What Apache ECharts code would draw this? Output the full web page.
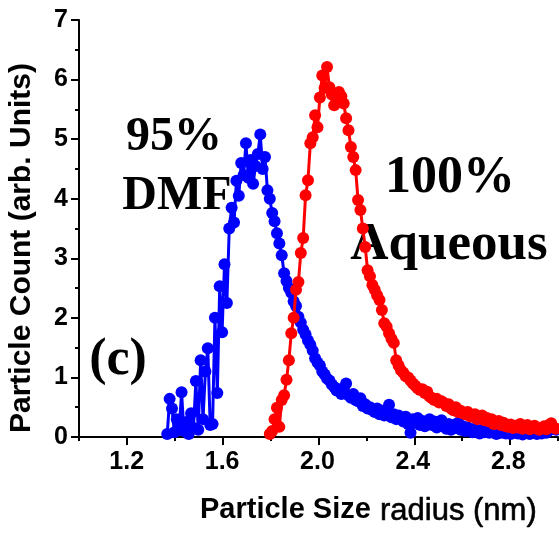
<!DOCTYPE html>
<html>
<head>
<meta charset="utf-8">
<script src="https://cdn.jsdelivr.net/npm/echarts@6/dist/echarts.min.js"></script>
<style>
  html, body { margin: 0; padding: 0; background: #fff; }
  #wrap { position: relative; width: 559px; height: 533px; }
  #axesLayer, #plotLayer { position: absolute; left: 0; top: 0; width: 559px; height: 533px; }
</style>
</head>
<body>
<div id="wrap">
  <div id="axesLayer"></div>
  <div id="plotLayer"></div>
</div>
<script>
// Particle size distributions (radius in nm, counts in arbitrary units), sampled every 0.01 nm
const dmfStart = 1.37;
const dmfCounts = [
  0.05, 0.64, 0.48, 0.08, 0.30, 0.12, 0.75, 0.10, 0.25, 0.05,
  0.40, 0.15, 0.94, 0.12, 1.29, 0.30, 1.10, 1.49, 0.20, 0.22,
  2.00, 0.74, 2.53, 1.76, 2.90, 2.25, 3.50, 3.85, 3.60, 4.30,
  4.05, 4.60, 4.40, 4.93, 4.35, 4.65, 4.25, 4.55, 4.75, 5.08,
  4.50, 4.70, 4.14, 4.00, 3.76, 3.62, 3.42, 3.25, 3.05, 2.75,
  2.62, 2.50, 2.42, 2.28, 2.20, 2.02, 1.92, 1.80, 1.72, 1.62,
  1.55, 1.45, 1.32, 1.25, 1.20, 1.10, 1.05, 0.98, 0.95, 0.88,
  0.84, 0.78, 0.80, 0.72, 0.82, 0.90, 0.70, 0.66, 0.72, 0.62,
  0.60, 0.65, 0.52, 0.55, 0.48, 0.50, 0.45, 0.42, 0.48, 0.38,
  0.44, 0.36, 0.40, 0.54, 0.33, 0.38, 0.30, 0.36, 0.30, 0.26,
  0.34, 0.22, 0.07, 0.30, 0.24, 0.32, 0.20, 0.27, 0.18, 0.25,
  0.30, 0.20, 0.26, 0.16, 0.22, 0.28, 0.18, 0.14, 0.22, 0.12,
  0.20, 0.15, 0.24, 0.12, 0.18, 0.10, 0.16, 0.12, 0.08, 0.14,
  0.10, 0.06, 0.12, 0.08, 0.11, 0.07, 0.13, 0.09, 0.05, 0.10,
  0.07, 0.12, 0.06, 0.09, 0.05, 0.08, 0.11, 0.06, 0.09, 0.04,
  0.08, 0.10, 0.05, 0.07, 0.09, 0.05, 0.08, 0.06, 0.10, 0.07,
  0.11, 0.13, 0.15, 0.12
];

const aqStart = 1.80;
const aqCounts = [
  0.05, 0.10, 0.30, 0.49, 0.17, 0.62, 0.70, 0.96, 1.29, 1.74,
  2.00, 2.47, 2.60, 3.09, 3.34, 4.06, 4.31, 4.93, 5.03, 5.40,
  5.20, 5.70, 6.07, 5.86, 6.21, 5.87, 5.75, 5.57, 5.65, 5.79,
  5.72, 5.60, 5.35, 5.15, 4.87, 4.70, 4.48, 3.98, 3.81, 3.50,
  3.19, 2.80, 2.70, 2.55, 2.47, 2.38, 2.30, 2.13, 1.91, 1.85,
  1.74, 1.65, 1.58, 1.29, 1.20, 1.12, 1.08, 1.02, 1.00, 0.95,
  0.90, 0.86, 0.82, 0.79, 0.80, 0.74, 0.76, 0.68, 0.65, 0.62,
  0.64, 0.58, 0.60, 0.57, 0.52, 0.55, 0.48, 0.45, 0.50, 0.42,
  0.44, 0.40, 0.38, 0.42, 0.35, 0.34, 0.38, 0.30, 0.33, 0.36,
  0.28, 0.32, 0.26, 0.30, 0.22, 0.23, 0.27, 0.20, 0.24, 0.18,
  0.17, 0.21, 0.15, 0.19, 0.16, 0.22, 0.14, 0.17, 0.20, 0.13,
  0.16, 0.19, 0.14, 0.12, 0.15, 0.18, 0.13, 0.20, 0.23, 0.16,
  0.14
];
const step = 0.01;

const xLabelValues = [1.2, 1.6, 2.0, 2.4, 2.8];
const xMinorTickValues = [1.0, 1.4, 1.8, 2.2, 2.6, 3.0];

function toPairs(start, counts) {
  return counts.map((v, i) => [+(start + i * step).toFixed(2), v]);
}

// Only every other 0.2 step carries a label, printed with one decimal
function xLabel(v) {
  const raw = (v !== null && typeof v === 'object' && 'value' in v) ? v.value : v;
  const n = Number(raw);
  if (!isFinite(n)) return '';
  return xLabelValues.some(t => Math.abs(t - n) < 1e-6) ? n.toFixed(1) : '';
}

function gridBox() {
  return { left: 79, top: 20, width: 479, height: 417 };
}
function tickFont() {
  return { fontFamily: 'Liberation Sans', fontWeight: 'bold', fontSize: 25, color: '#000' };
}
function blackLine() {
  return { color: '#000', width: 2 };
}

// Bottom layer: axis lines with major and minor tick marks
const axesChart = echarts.init(document.getElementById('axesLayer'));
axesChart.setOption({
  backgroundColor: '#fff',
  animation: false,
  grid: gridBox(),
  xAxis: [
    {
      type: 'value', min: 1.0, max: 3.0,
      axisLine: { show: true, lineStyle: blackLine() },
      axisTick: { show: true, customValues: xLabelValues, length: 8, lineStyle: blackLine() },
      axisLabel: { show: false },
      splitLine: { show: false }
    },
    {
      type: 'value', min: 1.0, max: 3.0, position: 'bottom',
      axisLine: { show: false },
      axisTick: { show: true, customValues: xMinorTickValues, length: 4, lineStyle: blackLine() },
      axisLabel: { show: false },
      splitLine: { show: false }
    }
  ],
  yAxis: {
    type: 'value', min: 0, max: 7, interval: 1,
    axisLine: { show: true, lineStyle: blackLine() },
    axisTick: { show: true, length: 8, lineStyle: blackLine() },
    minorTick: { show: true, splitNumber: 2, length: 4, lineStyle: blackLine() },
    axisLabel: { show: false },
    splitLine: { show: false },
    minorSplitLine: { show: false }
  },
  series: [{ type: 'line', data: [], showSymbol: false }]
});

// Top layer: tick labels, the two size distributions and the text
const plotChart = echarts.init(document.getElementById('plotLayer'));
plotChart.setOption({
  backgroundColor: 'rgba(0,0,0,0)',
  animation: false,
  grid: gridBox(),
  xAxis: {
    type: 'value', min: 1.0, max: 3.0, interval: 0.2,
    axisLine: { show: false },
    axisTick: { show: false },
    axisLabel: Object.assign({ show: true, margin: 13, formatter: xLabel }, tickFont()),
    splitLine: { show: false }
  },
  yAxis: {
    type: 'value', min: 0, max: 7, interval: 1,
    axisLine: { show: false },
    axisTick: { show: false },
    axisLabel: Object.assign({ show: true, margin: 11 }, tickFont()),
    splitLine: { show: false }
  },
  series: [
    {
      name: '95% DMF', type: 'line',
      data: toPairs(dmfStart, dmfCounts),
      symbol: 'circle', symbolSize: 12, showSymbol: true,
      itemStyle: { color: '#0000ff' },
      lineStyle: { color: '#0000ff', width: 3 },
      z: 2
    },
    {
      name: '100% Aqueous', type: 'line',
      data: toPairs(aqStart, aqCounts),
      symbol: 'circle', symbolSize: 12, showSymbol: true,
      itemStyle: { color: '#ff0000' },
      lineStyle: { color: '#ff0000', width: 3 },
      z: 3
    }
  ],
  graphic: [
    {
      type: 'text', x: 22, y: 248, rotation: Math.PI / 2,
      style: { text: 'Particle Count (arb. Units)', font: 'bold 30px "Liberation Sans"', fill: '#000', align: 'center', verticalAlign: 'middle' }
    },
    {
      type: 'text', x: 200, y: 510,
      style: { text: 'Particle Size', font: 'bold 29px "Liberation Sans"', fill: '#000', align: 'left', verticalAlign: 'middle' }
    },
    {
      type: 'text', x: 380, y: 511,
      style: { text: 'radius (nm)', font: 'normal 31px "Liberation Sans"', fill: '#000', stroke: '#000', lineWidth: 0.6, align: 'left', verticalAlign: 'middle' }
    },
    { type: 'text', x: 174, y: 138, style: { text: '95%', font: 'bold 48px "Liberation Serif"', fill: '#000', align: 'center', verticalAlign: 'middle' } },
    { type: 'text', x: 177, y: 197, style: { text: 'DMF', font: 'bold 48px "Liberation Serif"', fill: '#000', align: 'center', verticalAlign: 'middle' } },
    { type: 'text', x: 450, y: 179, style: { text: '100%', font: 'bold 52px "Liberation Serif"', fill: '#000', align: 'center', verticalAlign: 'middle' } },
    { type: 'text', x: 449, y: 245, style: { text: 'Aqueous', font: 'bold 53px "Liberation Serif"', fill: '#000', align: 'center', verticalAlign: 'middle' } },
    { type: 'text', x: 118, y: 361, style: { text: '(c)', font: 'bold 52px "Liberation Serif"', fill: '#000', align: 'center', verticalAlign: 'middle' } }
  ]
});
</script>
</body>
</html>
